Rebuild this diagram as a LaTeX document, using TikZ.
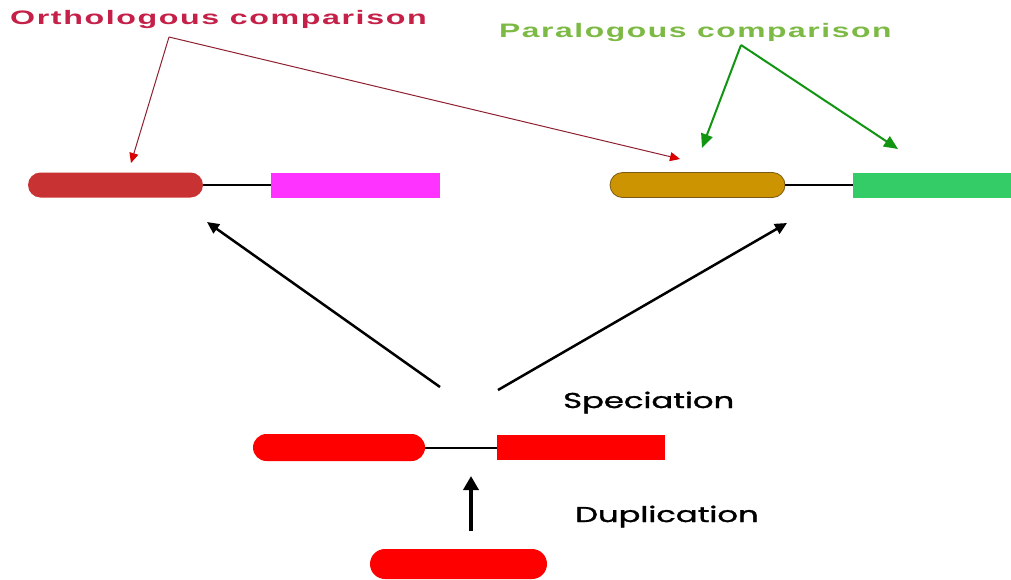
\documentclass[tikz,border=0pt]{standalone}
\usepackage{fontspec}
\setmainfont{Liberation Sans}
\newfontfamily\headfont[LetterSpace=5]{Liberation Sans}
\newfontfamily\labfont[FakeBold=1.2]{Poppins}
\usetikzlibrary{arrows.meta}
\definecolor{ortho}{HTML}{C42048}
\definecolor{ortholine}{HTML}{8E2030}
\definecolor{para}{HTML}{7DBA45}
\definecolor{paraline}{HTML}{129612}
\definecolor{brick}{HTML}{C83232}
\definecolor{magentabox}{HTML}{FF33FF}
\definecolor{gold}{HTML}{CC9400}
\definecolor{goldedge}{HTML}{7A5A10}
\definecolor{greenbox}{HTML}{33CC66}
\definecolor{gene}{HTML}{FF0000}
\newcommand{\widetext}[2]{\scalebox{#1}[1]{#2}}
\tikzset{
  pill/.style={rectangle, rounded corners=12.5pt, minimum width=175pt, minimum height=25pt, inner sep=0pt},
  block/.style={rectangle, minimum width=170pt, minimum height=25pt, inner sep=0pt},
  link/.style={line width=2.5pt, black},
  evolarrow/.style={line width=2.5pt, black, -{Triangle[width=11pt,length=12pt]}},
  orthoarrow/.style={ortholine, line width=1pt, -{Triangle[width=9pt,length=10pt,color=red!85!black]}},
  paraarrow/.style={paraline, line width=2pt, -{Triangle[width=12pt,length=14pt]}},
  headlabel/.style={anchor=base west, inner sep=0pt, font=\headfont\bfseries\fontsize{19.5}{24}\selectfont},
  eventlabel/.style={anchor=base west, inner sep=0pt, font=\labfont\fontsize{21.5}{24}\selectfont}
}
\begin{document}
\begin{tikzpicture}[x=1pt,y=-1pt]
\useasboundingbox[fill=white] (0,0) rectangle (1011,579);

% headings
\node[headlabel, text=ortho] (orthotxt) at (10,24) {\widetext{1.65}{Orthologous comparison}};
\node[headlabel, text=para] (paratxt) at (499,37) {\widetext{1.63}{Paralogous comparison}};

% top left pair of genes
\node[pill, fill=brick] (a1) at (115.5,185) {};
\node[block, fill=magentabox, minimum width=169pt] (a2) at (355.5,185) {};
\draw[link] (a1.east) -- (a2.west);

% top right pair of genes
\node[pill, fill=gold, draw=goldedge, line width=0.8pt] (b1) at (697.5,185) {};
\node[block, fill=greenbox, minimum width=160pt] (b2) at (933,185) {};
\draw[link] (b1.east) -- (b2.west);

% middle pair of genes
\node[pill, fill=gene, minimum width=172pt, minimum height=27pt, rounded corners=13.5pt] (c1) at (339,447.5) {};
\node[block, fill=gene, minimum width=168pt] (c2) at (581,447.5) {};
\draw[line width=2pt] (c1.east) -- (c2.west);

% ancestral gene
\node[pill, fill=gene, minimum width=177pt, minimum height=30pt, rounded corners=15pt] (d) at (458.5,564) {};

% event labels
\node[eventlabel] (spec) at (563,408) {\widetext{1.5}{Speciation}};
\node[eventlabel] (dup) at (575,522) {\widetext{1.5}{Duplication}};

% evolutionary arrows
\coordinate (sl) at (440,387);
\coordinate (sr) at (498,390);
\coordinate (al) at (207,222);
\coordinate (ar) at (787,223);
\draw[evolarrow] (sl) -- (al);
\draw[evolarrow] (sr) -- (ar);
\coordinate (dupfoot) at (471,531);
\coordinate (duptip) at (471,476);
\draw[line width=4.5pt, -{Triangle[width=15pt,length=14pt]}] (dupfoot) -- (duptip);

% comparison pointers
\coordinate (ofrom) at (169,37);
\coordinate (oto1) at (131,163);
\coordinate (oto2) at (680,159);
\draw[orthoarrow] (ofrom) -- (oto1);
\draw[orthoarrow] (ofrom) -- (oto2);
\coordinate (pfrom) at (741,45);
\coordinate (pto1) at (702,148);
\coordinate (pto2) at (898,149);
\draw[paraarrow] (pfrom) -- (pto1);
\draw[paraarrow] (pfrom) -- (pto2);
\end{tikzpicture}
\end{document}
